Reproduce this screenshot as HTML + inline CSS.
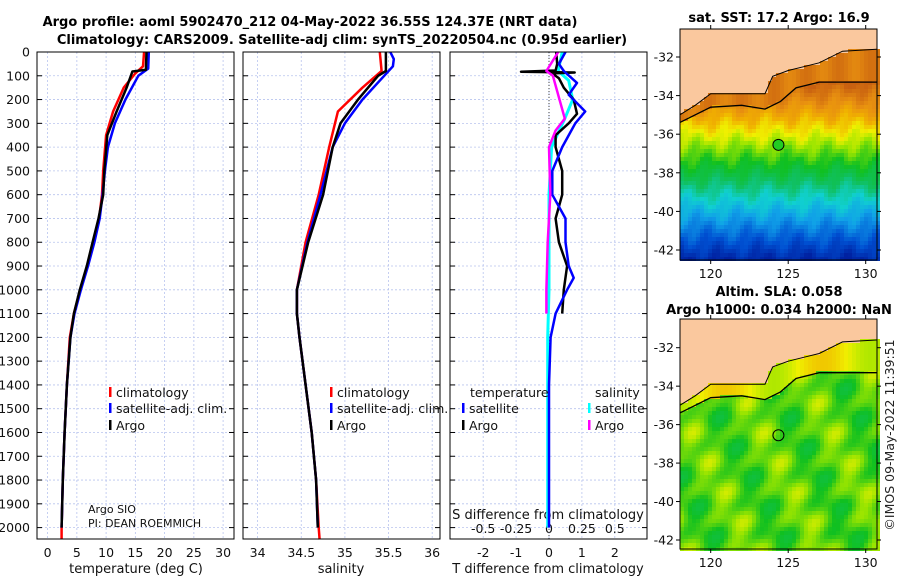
<!DOCTYPE html>
<html><head><meta charset="utf-8"><style>
html,body{margin:0;padding:0;background:#fff;width:900px;height:580px;overflow:hidden}
svg{display:block;font-family:"DejaVu Sans","Liberation Sans",sans-serif}
</style></head><body>
<svg id="c" width="900" height="580" viewBox="0 0 900 580">
<text x="310" y="26" text-anchor="middle" font-size="13" font-weight="bold">Argo profile: aoml 5902470_212 04-May-2022 36.55S 124.37E (NRT data)</text>
<text x="342" y="44" text-anchor="middle" font-size="13" font-weight="bold">Climatology: CARS2009. Satellite-adj clim: synTS_20220504.nc (0.95d earlier)</text>
<text x="779" y="22" text-anchor="middle" font-size="13" font-weight="bold">sat. SST: 17.2 Argo: 16.9</text>
<text x="779" y="296" text-anchor="middle" font-size="13" font-weight="bold">Altim. SLA: 0.058</text>
<text x="779" y="314" text-anchor="middle" font-size="13" font-weight="bold">Argo h1000: 0.034 h2000: NaN</text>
<text transform="translate(894,435) rotate(-90)" text-anchor="middle" font-size="12.5" fill="#222">©IMOS 09-May-2022 11:39:51</text>
<g id="g"></g>
</svg>
<script>
// ---------- data ----------
const depthTicks=[0,100,200,300,400,500,600,700,800,900,1000,1100,1200,1300,1400,1500,1600,1700,1800,1900,2000];
const tempTicks=[0,5,10,15,20,25,30];
const salTicks=[34,34.5,35,35.5,36];
const salTickLabels=["34","34.5","35","35.5","36"];
const tdiffTicks=[-2,-1,0,1,2];
const sdiffTicks=[-0.5,-0.25,0,0.25,0.5];
const sdiffTickLabels=["-0.5","-0.25","0","0.25","0.5"];

const tClimDepth=[0,60,90,150,250,350,500,600,700,800,900,1000,1100,1200,1400,1600,1800,2000,2050];
const tClimVal=[16.5,16.3,15,13,11.2,10,9.5,9.3,8.8,7.8,6.8,5.6,4.5,3.8,3.3,2.9,2.6,2.4,2.4];
const tSatDepth=[0,70,100,200,300,400,500,600,700,800,900,1000,1100,1200,1400,1600,1800,2000];
const tSatVal=[17.3,17.2,15.5,13.3,11.5,10.3,9.8,9.4,8.9,8,6.9,5.7,4.6,3.9,3.3,2.9,2.6,2.4];
const tArgoDepth=[0,75,82,150,250,350,500,600,700,800,900,1000,1100,1200,1400,1600,1800,2000];
const tArgoVal=[16.9,16.8,14.5,13.5,11.8,10.2,9.7,9.5,8.7,7.7,6.7,5.5,4.5,3.9,3.3,2.9,2.6,2.4];

const sClimDepth=[0,80,150,250,400,600,800,1000,1100,1200,1400,1600,1800,2000,2050];
const sClimVal=[35.4,35.42,35.2,34.92,34.82,34.7,34.55,34.45,34.45,34.48,34.55,34.62,34.67,34.7,34.71];
const sSatDepth=[0,30,60,100,200,300,400,600,800,1000,1100,1200,1400,1600,1800,2000];
const sSatVal=[35.52,35.56,35.55,35.45,35.2,35.0,34.86,34.72,34.57,34.45,34.45,34.48,34.55,34.62,34.67,34.69];
const sArgoDepth=[0,80,100,200,300,400,600,800,1000,1100,1200,1400,1600,1800,2000];
const sArgoVal=[35.47,35.47,35.38,35.15,34.95,34.86,34.75,34.58,34.45,34.45,34.48,34.55,34.62,34.67,34.69];

const dArgoTDepth=[0,50,78,83,86,90,110,150,200,260,300,350,400,500,600,700,800,900,1000,1100];
const dArgoTVal=[0.22,0.25,0.2,-0.85,0.78,0.1,0.3,0.45,0.75,0.85,0.6,0.2,0.2,0.4,0.4,0.2,0.3,0.55,0.45,0.4];
const dSatTDepth=[0,50,80,130,180,250,300,400,500,600,700,800,900,950,1000,1100,1200,1400,2000];
const dSatTVal=[0.5,0.3,0.45,0.85,0.6,1.1,0.8,0.4,0.1,0.1,0.5,0.5,0.6,0.75,0.55,0.2,0.05,0.0,0.0];
const dSatSDepth=[0,80,120,200,280,400,600,800,1000,1200,2000];
const dSatSVal=[0.1,0.07,0.15,0.18,0.12,0.02,0.0,0.0,0.0,-0.01,-0.01];
const dArgoSDepth=[0,80,100,200,280,330,400,600,800,1000,1100];
const dArgoSVal=[0.07,-0.02,0.03,0.08,0.12,0.05,0.0,0.01,-0.01,-0.02,-0.02];

const latTicks=[-32,-34,-36,-38,-40,-42];
const lonTicks=[120,125,130];
const floatLon=[124.37], floatLat=[-36.55];
const coastLon=[118,119,120,122,123.5,124,125,126,127,128.5,130.7];
const coastLat=[-35.0,-34.5,-33.9,-33.9,-33.9,-33.0,-32.7,-32.5,-32.3,-31.7,-31.6];
const shelfLon=[118,120,122,123.5,124.5,125.5,127,130.7];
const shelfLat=[-35.4,-34.6,-34.5,-34.7,-34.3,-33.6,-33.3,-33.3];

// ---------- helpers ----------
const NS="http://www.w3.org/2000/svg";
const G=document.getElementById('g');
function mk(tag,attrs,parent){const e=document.createElementNS(NS,tag);for(const k in attrs)e.setAttribute(k,attrs[k]);(parent||G).appendChild(e);return e;}
const yTop=52, yScale=0.2378, boxBottom=539;
const yD=d=>yTop+d*yScale;
const panels=[
 {x0:37,x1:234,sx:v=>47.6+v*5.85,name:'temperature-panel'},
 {x0:243,x1:440,sx:v=>257.6+(v-34)*87.3,name:'salinity-panel'},
 {x0:450,x1:647,sx:v=>549+v*32.9,name:'difference-panel'}
];
const sxS=v=>549+v*131.6;

function grid(p,ticks){
  ticks.forEach(t=>{const l=mk('line',{x1:p.sx(t),x2:p.sx(t),y1:yTop,y2:boxBottom,stroke:'#b8c4ee','stroke-width':0.8,'stroke-dasharray':'2,2'});
  
  });
  depthTicks.forEach(d=>{const l=mk('line',{x1:p.x0,x2:p.x1,y1:yD(d),y2:yD(d),stroke:'#b8c4ee','stroke-width':0.8,'stroke-dasharray':'2,2'});
  
  
  [[p.x0,p.x0+5],[p.x1-5,p.x1]].forEach(a=>mk('line',{x1:a[0],x2:a[1],y1:yD(d),y2:yD(d),stroke:'#000','stroke-width':1}));});
}
function box(p){const r=mk('rect',{x:p.x0,y:yTop,width:p.x1-p.x0,height:boxBottom-yTop,fill:'none',stroke:'#000','stroke-width':1});
 
 }
function line(depths,vals,sx,color,w,name){
  const pts=depths.map((d,i)=>sx(vals[i]).toFixed(1)+','+yD(d).toFixed(1)).join(' ');
  const e=mk('polyline',{points:pts,fill:'none',stroke:color,'stroke-width':w,'stroke-linejoin':'round'});
  
  
}
function txt(x,y,s,size,anchor,name){const e=mk('text',{x:x,y:y,'font-size':size,'text-anchor':anchor||'start',fill:'#111'});e.textContent=s;
 
 return e;}

grid(panels[0],tempTicks);grid(panels[1],salTicks);grid(panels[2],tdiffTicks);
depthTicks.forEach(d=>txt(30,yD(d)+4.5,String(d),12.5,'end','depth-tick-label'));
tempTicks.forEach(t=>txt(panels[0].sx(t),557,String(t),12.5,'middle','temp-tick-label'));
salTicks.forEach((t,i)=>txt(panels[1].sx(t),557,salTickLabels[i],12.5,'middle','salinity-tick-label'));
tdiffTicks.forEach(t=>txt(panels[2].sx(t),557,String(t),12.5,'middle','tdiff-tick-label'));
sdiffTicks.forEach((t,i)=>txt(sxS(t),533,sdiffTickLabels[i],12.5,'middle','sdiff-tick-label'));
txt(136,573,'temperature (deg C)',13,'middle','temp-axis-title');
txt(341,573,'salinity',13,'middle','salinity-axis-title');
txt(548,573,'T difference from climatology',13,'middle','tdiff-axis-title');
txt(548,519,'S difference from climatology',13,'middle','sdiff-axis-title');
txt(88,513,'Argo SIO',11,'start','argo-institution');
txt(88,527,'PI: DEAN ROEMMICH',11,'start','argo-pi');

mk('line',{x1:549,x2:549,y1:yTop,y2:boxBottom,stroke:'#444','stroke-width':1,'stroke-dasharray':'1,2'});

line(tClimDepth,tClimVal,panels[0].sx,'#f00',2.5,'temp-climatology-line');
line(tSatDepth,tSatVal,panels[0].sx,'#00f',2.5,'temp-satellite-line');
line(tArgoDepth,tArgoVal,panels[0].sx,'#000',2.5,'temp-argo-line');
line(sClimDepth,sClimVal,panels[1].sx,'#f00',2.5,'sal-climatology-line');
line(sSatDepth,sSatVal,panels[1].sx,'#00f',2.5,'sal-satellite-line');
line(sArgoDepth,sArgoVal,panels[1].sx,'#000',2.5,'sal-argo-line');
line(dSatSDepth,dSatSVal,sxS,'#0ff',3,'sdiff-satellite-line');
line(dArgoTDepth,dArgoTVal,panels[2].sx,'#000',2.5,'tdiff-argo-line');
line(dSatTDepth,dSatTVal,panels[2].sx,'#00f',2.5,'tdiff-satellite-line');
line(dArgoSDepth,dArgoSVal,sxS,'#f0f',2.5,'sdiff-argo-line');
panels.forEach(box);

function leg(x,y,color,label,name){mk('rect',{x:x,y:y-10,width:2.5,height:10,fill:color});txt(x+7,y,label,12.5,'start',name);}
[109,330].forEach(lx=>{
  leg(lx,397,'#f00','climatology','legend-climatology');
  leg(lx,413,'#00f','satellite-adj. clim.','legend-satellite');
  leg(lx,430,'#000','Argo','legend-argo');
});
txt(470,397,'temperature',12.5,'start','legend-temperature-header');
leg(462,413,'#00f','satellite','legend-t-satellite');
leg(462,430,'#000','Argo','legend-t-argo');
txt(595,397,'salinity',12.5,'start','legend-salinity-header');
leg(588,413,'#0ff','satellite','legend-s-satellite');
leg(588,430,'#f0f','Argo','legend-s-argo');

// ---------- maps ----------
const palV=[0,0.12,0.25,0.35,0.45,0.55,0.65,0.72,0.8,0.88,1];
const palC=[[0,32,160],[0,80,210],[16,160,232],[16,208,208],[16,192,96],[16,192,32],[150,228,0],[240,240,0],[240,176,0],[232,144,16],[200,96,16]];
function cmap(v){v=Math.max(0,Math.min(1,v));
 for(let i=1;i<palV.length;i++)if(v<=palV[i]){const t=(v-palV[i-1])/(palV[i]-palV[i-1]);const a=palC[i-1],b=palC[i];
  return `rgb(${Math.round(a[0]+(b[0]-a[0])*t)},${Math.round(a[1]+(b[1]-a[1])*t)},${Math.round(a[2]+(b[2]-a[2])*t)})`;}
 return 'rgb(200,96,16)';}
function interp(xs,ys,x){if(x<=xs[0])return ys[0];for(let i=1;i<xs.length;i++)if(x<=xs[i])return ys[i-1]+(ys[i]-ys[i-1])*(x-xs[i-1])/(xs[i]-xs[i-1]);return ys[ys.length-1];}
function drawMap(y0,y1,yLat32,yLat42,kind){
  const x0=680,x1=877;
  const lx=lon=>710.7+(lon-120)*15.5;
  const ly=lat=>yLat32+(-32-lat)*(yLat42-yLat32)/10;
  const invLon=x=>120+(x-710.7)/15.5, invLat=y=>-32-(y-yLat32)*10/(yLat42-yLat32);
  const grp=mk('g',{});
  
  
  mk('rect',{x:x0,y:y0,width:x1-x0,height:y1-y0,fill:'#fac89e'},grp);
  const c=4;
  for(let y=y0;y<y1;y+=c)for(let x=x0;x<x1;x+=c){
    const lon=invLon(x+2),lat=invLat(y+2);
    const coast=interp(coastLon,coastLat,lon);
    if(lat>coast)continue;
    const shelf=interp(shelfLon,shelfLat,lon);
    let v;
    if(kind==='sst'){
      v=0.04+(lat+42.3)/7.3*0.78+0.025*Math.sin(lon*2.3+lat*1.7)+0.02*Math.sin(lon*5.1-lat*3.3);
      if(lat>shelf)v=0.93+0.03*Math.sin(lon*3);
    }else{
      v=0.6+0.045*Math.sin(lon*1.4+lat*0.9)+0.035*Math.sin(lon*2.7-lat*2.1)+0.02*Math.sin(lat*4.1);
      if(lat>shelf)v=0.72+0.05*Math.sin(lon);
    }
    mk('rect',{x:x,y:y,width:c,height:c,fill:cmap(v)},grp);
  }
  const cp=coastLon.map((l,i)=>lx(l).toFixed(1)+','+ly(coastLat[i]).toFixed(1)).join(' ');
  mk('polyline',{points:cp,fill:'none',stroke:'#000','stroke-width':1},grp);
  const sp=shelfLon.map((l,i)=>lx(l).toFixed(1)+','+ly(shelfLat[i]).toFixed(1)).join(' ');
  mk('polyline',{points:sp,fill:'none',stroke:'#000','stroke-width':1.3},grp);
  const f=mk('circle',{cx:lx(floatLon[0]),cy:ly(floatLat[0]),r:5.5,fill:kind==='sst'?'#22cc22':'none',stroke:'#000','stroke-width':1},grp);
  
  
  mk('rect',{x:x0,y:y0,width:x1-x0,height:y1-y0,fill:'none',stroke:'#000','stroke-width':1},grp);
  latTicks.forEach(t=>{const y=ly(t);mk('line',{x1:x0-4,x2:x0,y1:y,y2:y,stroke:'#000'},grp);mk('line',{x1:x1,x2:x1+4,y1:y,y2:y,stroke:'#000'},grp);
    txt(x0-6,y+4.5,String(t),12.5,'end','lat-tick-label');});
  lonTicks.forEach(t=>{const x=lx(t);mk('line',{x1:x,x2:x,y1:y1,y2:y1+4,stroke:'#000'},grp);mk('line',{x1:x,x2:x,y1:y0-4,y2:y0,stroke:'#000'},grp);
    txt(x,y1+18,String(t),12.5,'middle','lon-tick-label');});
}
drawMap(29,260,57,250,'sst');
drawMap(319,549,347.7,540,'sla');
</script>
</body></html>
